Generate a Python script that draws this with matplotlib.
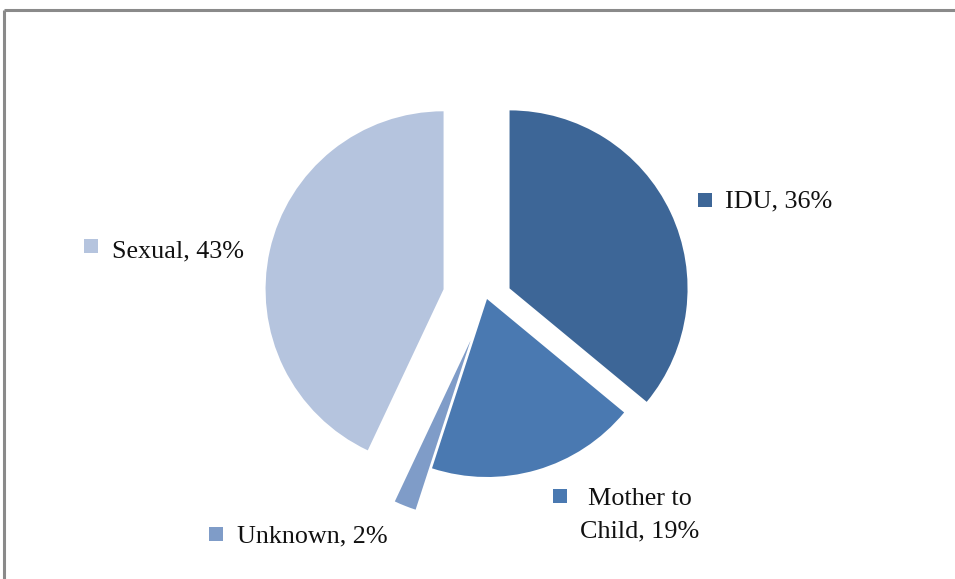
import matplotlib
matplotlib.use("Agg")
import matplotlib.pyplot as plt
from matplotlib.patches import Rectangle

# Transmission routes and their shares (%)
categories = ["IDU", "Mother to\nChild", "Unknown", "Sexual"]
shares = [36, 19, 2, 43]
colors = ["#3D6697", "#4A79B1", "#7F9CC8", "#B5C4DE"]
explode = [0.14, 0.0, 0.25, 0.25]

W, H = 955, 579
fig = plt.figure(figsize=(W / 100, H / 100), dpi=100)
ax = fig.add_axes([0, 0, 1, 1])

R = 178
cx, cy = 487, H - 299
# pie's explode offsets are absolute distances, so scale them by the radius
ax.pie(shares, colors=colors, explode=[e * R for e in explode], startangle=90,
       counterclock=False, radius=R, center=(cx, cy), frame=True,
       wedgeprops=dict(linewidth=0))
ax.set_xlim(0, W)
ax.set_ylim(0, H)
ax.set_aspect("auto")
ax.axis("off")

# Chart-area border (top and left edges)
ax.plot([4, W], [H - 10, H - 10], color="#8A8A8A", lw=2.2, solid_capstyle="butt")
ax.plot([4, 4], [0, H - 10], color="#8A8A8A", lw=2.2, solid_capstyle="butt")

font = dict(family="Liberation Serif", size=18.8, color="#111111")

# label: (square x, square top y, text x, baseline y, alignment)
labels = [
    (698, 193, 725, 207, "left"),
    (553, 489, 640, 505, "center"),
    (209, 527, 237, 542, "left"),
    (84, 239, 112, 257, "left"),
]
for (sx, sy, tx, ty, ha), cat, val, col in zip(labels, categories, shares, colors):
    ax.add_patch(Rectangle((sx, H - sy - 14), 14, 14, color=col, lw=0))
    text = f"{cat}, {val}%"
    if "\n" in text:
        lines = text.split("\n")
        for i, line in enumerate(lines):
            ax.text(tx, H - ty - i * 32, line, ha=ha, va="baseline", **font)
    else:
        ax.text(tx, H - ty, text, ha=ha, va="baseline", **font)

fig.savefig("out.png", dpi=100)
